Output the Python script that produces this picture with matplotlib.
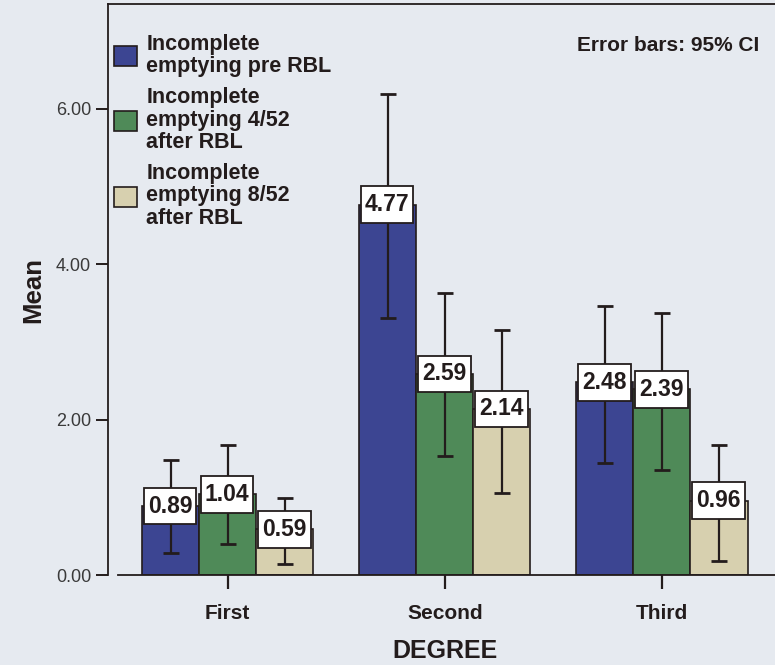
import matplotlib.pyplot as plt
import numpy as np

degrees = ['First', 'Second', 'Third']
series = ['Incomplete\nemptying pre RBL',
          'Incomplete\nemptying 4/52\nafter RBL',
          'Incomplete\nemptying 8/52\nafter RBL']
means = [[0.89, 4.77, 2.48],
         [1.04, 2.59, 2.39],
         [0.59, 2.14, 0.96]]
ci_low = [[0.28, 3.31, 1.45],
          [0.40, 1.53, 1.35],
          [0.15, 1.06, 0.18]]
ci_high = [[1.48, 6.19, 3.46],
           [1.67, 3.63, 3.38],
           [1.00, 3.15, 1.67]]
colors = ['#3c4592', '#4f8a58', '#d7d0af']

bg = '#e6eaf0'
ink = '#231c1c'
plt.rcParams['font.family'] = ['Liberation Sans', 'DejaVu Sans']

fig = plt.figure(figsize=(7.75, 6.65), dpi=100, facecolor=bg)
ax = fig.add_axes([0.139, 0.135, 0.861, 0.859], facecolor=bg)

x = np.arange(len(degrees))
w = 0.263
for i, name in enumerate(series):
    xs = x + (i - 1) * w
    m = np.array(means[i])
    ax.bar(xs, m, width=w, color=colors[i], edgecolor=ink, linewidth=1.2,
           label=name, zorder=2)
    err = [m - np.array(ci_low[i]), np.array(ci_high[i]) - m]
    ax.errorbar(xs, m, yerr=err, fmt='none', ecolor=ink, elinewidth=1.6,
                capsize=6, capthick=2, zorder=3)
    # value boxes sitting on the bar tops
    for xv, v in zip(xs, m):
        ax.add_patch(plt.Rectangle((xv - w * 0.47, v - 0.235), w * 0.92, 0.47,
                                   facecolor='white', edgecolor=ink,
                                   linewidth=1.3, zorder=4))
        ax.text(xv - w * 0.01, v, f'{v:.2f}', ha='center', va='center',
                fontsize=16.5, fontweight='bold', color=ink, zorder=5)

ax.set_xlim(-0.553, 2.521)
ax.set_ylim(0, 7.35)
ax.set_yticks([0, 2, 4, 6])
ax.set_yticklabels(['0.00', '2.00', '4.00', '6.00'])
ax.set_xticks(x)
ax.set_xticklabels(degrees, fontweight='bold', fontsize=15)
ax.tick_params(axis='y', direction='out', length=9, width=1.4, colors=ink,
               labelsize=13, labelcolor='#3a3a3a', pad=3)
ax.tick_params(axis='x', direction='out', length=10, width=1.6, colors=ink,
               pad=11)
ax.spines['right'].set_visible(False)
ax.spines['bottom'].set_bounds(-0.505, 2.521)
for s in ['left', 'top', 'bottom']:
    ax.spines[s].set_color(ink)
    ax.spines[s].set_linewidth(1.3)

ax.set_ylabel('Mean', fontsize=18.5, fontweight='bold', color=ink)
ax.yaxis.set_label_coords(-0.094, 0.5)
ax.set_xlabel('DEGREE', fontsize=18, fontweight='bold', color=ink)
ax.xaxis.set_label_coords(0.505, -0.112)

ax.text(0.976, 0.927, 'Error bars: 95% CI', transform=ax.transAxes,
        ha='right', va='center', fontsize=15, fontweight='bold', color=ink)

leg = ax.legend(loc='upper left', bbox_to_anchor=(0.009, 0.948), frameon=False,
                prop={'weight': 'bold', 'size': 15.5}, handlelength=1.07,
                handleheight=1.07, handletextpad=0.45, labelspacing=0.45,
                borderaxespad=0, borderpad=0)
for t in leg.get_texts():
    t.set_color(ink)
    t.set_linespacing(1.1)

fig.savefig('out.png', dpi=100, facecolor=bg)
